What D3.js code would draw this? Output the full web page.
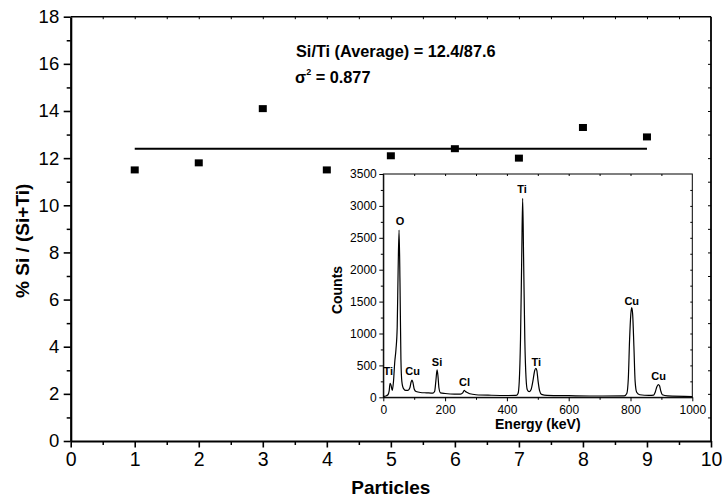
<!DOCTYPE html>
<html>
<head>
<meta charset="utf-8">
<script src="https://cdn.jsdelivr.net/npm/d3@7"></script>
<style>
  body { margin: 0; background: #fff; }
  text { font-family: "Liberation Sans", Arial, sans-serif; fill: #000; }
</style>
</head>
<body>
<script>
const width = 724, height = 502;

// main plot data
const particles = [1, 2, 3, 4, 5, 6, 7, 8, 9];
const siPercent = [11.5, 11.8, 14.1, 11.5, 12.1, 12.4, 12.0, 13.3, 12.9];
const averageValue = 12.4;
const averageRange = [1, 9];

// inset EDX spectrum
const energy = [2, 8, 15, 19, 22, 25, 29, 33, 37, 41, 45, 48, 51, 54, 57, 60, 65, 72, 80, 86, 90, 93, 96, 100, 106,
  120, 140, 160, 166, 170, 174, 177, 180, 185, 200, 230, 250, 257, 262, 266, 272, 280, 300, 350, 400, 430,
  436, 440, 444, 448, 451, 454, 458, 462, 466, 472, 478, 484, 490, 494, 497, 501, 506, 512, 530, 600, 700,
  780, 788, 793, 797, 801, 804, 807, 811, 815, 820, 830, 860, 875, 880, 885, 890, 894, 898, 903, 920, 1000];
const counts = [15, 20, 40, 100, 220, 190, 110, 250, 550, 750, 1100, 2000, 2620, 1800, 600, 250, 140, 110, 110, 150, 240, 270, 230, 130, 90,
  75, 70, 65, 90, 250, 430, 330, 150, 70, 60, 50, 50, 70, 110, 90, 75, 55, 40, 32, 28, 30,
  60, 250, 900, 2200, 3120, 2200, 900, 300, 120, 90, 120, 250, 420, 455, 420, 250, 100, 45, 30, 25, 20,
  22, 60, 300, 900, 1300, 1405, 1300, 800, 250, 80, 40, 30, 35, 80, 160, 200, 180, 100, 40, 22, 12];

const peakNames = ["Ti", "O", "Cu", "Si", "Cl", "Ti", "Ti", "Cu", "Cu"];
const peakEnergy = [16, 54, 95, 174, 263, 449, 495, 804, 891];
const peakLabelCount = [350, 2700, 350, 495, 178, 3210, 495, 1440, 270];

const svg = d3.select("body").append("svg")
  .attr("width", width)
  .attr("height", height);

// ---------- main chart ----------
const x = d3.scaleLinear().domain([0, 10]).range([70.7, 711]);
const y = d3.scaleLinear().domain([0, 18]).range([441, 16.7]);

function styleAxis(g, fontSize) {
  g.selectAll("path, line").attr("stroke", "#000");
  g.selectAll("text").style("font-size", fontSize + "px").style("font-family", "Liberation Sans, Arial, sans-serif");
}

// frame (top / right)
svg.append("line").attr("x1", x(0)).attr("x2", x(10)).attr("y1", y(18)).attr("y2", y(18))
  .attr("stroke", "#000").attr("stroke-width", 1.6);
svg.append("line").attr("x1", x(10)).attr("x2", x(10)).attr("y1", y(18)).attr("y2", y(0))
  .attr("stroke", "#000").attr("stroke-width", 1.8);

// top & right small inward ticks
svg.append("g").attr("transform", `translate(0,${y(18)})`)
  .call(d3.axisBottom(x).tickValues(d3.range(0.5, 10, 0.5)).tickSize(2.5).tickFormat("").tickSizeOuter(0))
  .call(g => g.select(".domain").remove())
  .call(g => styleAxis(g, 10));
svg.append("g").attr("transform", `translate(${x(10)},0)`)
  .call(d3.axisLeft(y).tickValues(d3.range(1, 18, 1)).tickSize(3).tickFormat("").tickSizeOuter(0))
  .call(g => g.select(".domain").remove())
  .call(g => styleAxis(g, 10));

// bottom axis
svg.append("g").attr("transform", `translate(0,${y(0)})`)
  .call(d3.axisBottom(x).tickValues(d3.range(0.5, 10, 1)).tickSize(4).tickFormat("").tickSizeOuter(0))
  .call(g => g.select(".domain").remove())
  .call(g => styleAxis(g, 10))
  .selectAll("line").attr("stroke-width", 1.5);
svg.append("g").attr("transform", `translate(0,${y(0)})`)
  .call(d3.axisBottom(x).tickValues(d3.range(0, 11, 1)).tickSize(6.5).tickPadding(5).tickFormat(d3.format("d")).tickSizeOuter(0))
  .call(g => styleAxis(g, 19.5))
  .call(g => g.select(".domain").attr("stroke-width", 2))
  .selectAll("line").attr("stroke-width", 1.6);

// left axis
svg.append("g").attr("transform", `translate(${x(0)},0)`)
  .call(d3.axisLeft(y).tickValues(d3.range(1, 18, 2)).tickSize(4).tickFormat("").tickSizeOuter(0))
  .call(g => g.select(".domain").remove())
  .call(g => styleAxis(g, 10))
  .selectAll("line").attr("stroke-width", 1.5);
svg.append("g").attr("transform", `translate(${x(0)},0)`)
  .call(d3.axisLeft(y).tickValues(d3.range(0, 19, 2)).tickSize(7).tickPadding(4.5).tickFormat(d3.format("d")).tickSizeOuter(0))
  .call(g => styleAxis(g, 18.5))
  .call(g => g.select(".domain").attr("stroke-width", 2.2))
  .selectAll("line").attr("stroke-width", 1.6);

// axis titles
svg.append("text")
  .attr("x", (x(0) + x(10)) / 2)
  .attr("y", 494)
  .attr("text-anchor", "middle")
  .style("font-size", "19px")
  .style("font-weight", "bold")
  .text("Particles");
svg.append("text")
  .attr("transform", `translate(29,${(y(0) + y(18)) / 2 + 12}) rotate(-90)`)
  .attr("text-anchor", "middle")
  .style("font-size", "19px")
  .style("font-weight", "bold")
  .text("% Si / (Si+Ti)");

// average line
svg.append("line")
  .attr("x1", x(averageRange[0])).attr("x2", x(averageRange[1]))
  .attr("y1", y(averageValue)).attr("y2", y(averageValue))
  .attr("stroke", "#000").attr("stroke-width", 2);

// points
svg.append("g").selectAll("rect")
  .data(particles)
  .enter().append("rect")
  .attr("x", d => x(d) - 4)
  .attr("y", (d, i) => y(siPercent[i]) - 3.5)
  .attr("width", 8)
  .attr("height", 7)
  .attr("fill", "#000");

// annotation
svg.append("text")
  .attr("x", 296).attr("y", 57)
  .style("font-size", "16.3px").style("font-weight", "bold")
  .text("Si/Ti (Average) = 12.4/87.6");
const sig = svg.append("text")
  .attr("x", 295).attr("y", 83)
  .style("font-size", "16.3px").style("font-weight", "bold");
sig.append("tspan").text("σ");
sig.append("tspan").attr("dy", -8).style("font-size", "9px").text("2");
sig.append("tspan").attr("dy", 8).text(" = 0.877");

// ---------- inset ----------
const ix = d3.scaleLinear().domain([0, 1000]).range([383.3, 692.3]);
const iy = d3.scaleLinear().domain([0, 3500]).range([397.3, 174]);

svg.append("rect")
  .attr("x", ix(0)).attr("y", iy(3500))
  .attr("width", ix(1000) - ix(0)).attr("height", iy(0) - iy(3500))
  .attr("fill", "#fff").attr("stroke", "#000").attr("stroke-width", 1);

// inward ticks top / right
svg.append("g").attr("transform", `translate(0,${iy(3500)})`)
  .call(d3.axisBottom(ix).tickValues(d3.range(100, 1000, 100)).tickSize(2).tickFormat("").tickSizeOuter(0))
  .call(g => g.select(".domain").remove())
  .call(g => styleAxis(g, 10));
svg.append("g").attr("transform", `translate(${ix(1000)},0)`)
  .call(d3.axisLeft(iy).tickValues(d3.range(250, 3500, 250)).tickSize(2).tickFormat("").tickSizeOuter(0))
  .call(g => g.select(".domain").remove())
  .call(g => styleAxis(g, 10));

// inset bottom axis
svg.append("g").attr("transform", `translate(0,${iy(0)})`)
  .call(d3.axisBottom(ix).tickValues(d3.range(100, 1000, 200)).tickSize(2.5).tickFormat("").tickSizeOuter(0))
  .call(g => g.select(".domain").remove())
  .call(g => styleAxis(g, 10));
svg.append("g").attr("transform", `translate(0,${iy(0)})`)
  .call(d3.axisBottom(ix).tickValues(d3.range(0, 1001, 200)).tickSize(4).tickPadding(4).tickFormat(d3.format("d")).tickSizeOuter(0))
  .call(g => styleAxis(g, 12));

// inset left axis
svg.append("g").attr("transform", `translate(${ix(0)},0)`)
  .call(d3.axisLeft(iy).tickValues(d3.range(250, 3500, 500)).tickSize(2.5).tickFormat("").tickSizeOuter(0))
  .call(g => g.select(".domain").remove())
  .call(g => styleAxis(g, 10));
svg.append("g").attr("transform", `translate(${ix(0)},0)`)
  .call(d3.axisLeft(iy).tickValues(d3.range(0, 3501, 500)).tickSize(4).tickPadding(2.5).tickFormat(d3.format("d")).tickSizeOuter(0))
  .call(g => styleAxis(g, 12));

// spectrum
const spectrum = energy.map((e, i) => [e, counts[i]]);
svg.append("path")
  .datum(spectrum)
  .attr("fill", "none")
  .attr("stroke", "#000")
  .attr("stroke-width", 1.2)
  .attr("d", d3.line().x(d => ix(d[0])).y(d => iy(d[1])).curve(d3.curveMonotoneX));

// peak labels
svg.append("g").selectAll("text")
  .data(peakNames)
  .enter().append("text")
  .attr("x", (d, i) => ix(peakEnergy[i]))
  .attr("y", (d, i) => iy(peakLabelCount[i]))
  .attr("text-anchor", "middle")
  .style("font-size", "11px")
  .style("font-weight", "bold")
  .text(d => d);

// inset titles
svg.append("text")
  .attr("x", (ix(0) + ix(1000)) / 2)
  .attr("y", 429)
  .attr("text-anchor", "middle")
  .style("font-size", "14px")
  .style("font-weight", "bold")
  .text("Energy (keV)");
svg.append("text")
  .attr("transform", `translate(342,290) rotate(-90)`)
  .attr("text-anchor", "middle")
  .style("font-size", "14px")
  .style("font-weight", "bold")
  .text("Counts");
</script>
</body>
</html>
